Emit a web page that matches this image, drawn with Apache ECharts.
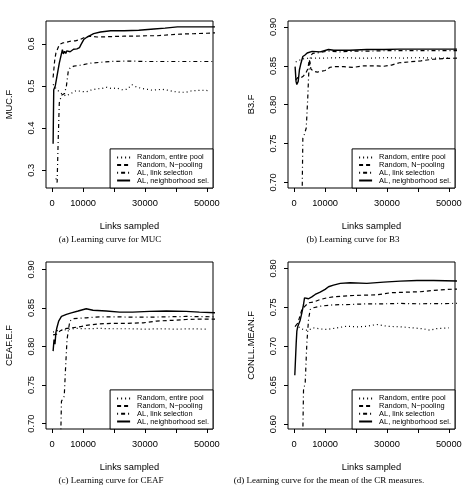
<!DOCTYPE html>
<html>
<head>
<meta charset="utf-8">
<script src="https://cdn.jsdelivr.net/npm/echarts@6/dist/echarts.min.js"></script>
<style>
  html, body { margin: 0; padding: 0; background: #fff; }
  #chart { width: 469px; height: 486px; }
</style>
</head>
<body>
<div id="chart"></div>
<script>
  var seriesNames = ['Random, entire pool', 'Random, N\u2212pooling', 'AL, link selection', 'AL, neighborhood sel.'];
  var xTickValues = [0, 10000, 20000, 30000, 40000, 50000];
  var xLabelValues = [0, 10000, 30000, 50000];

  // (a) MUC
  var mucEntire = [[300,0.504],[1400,0.492],[2800,0.483],[4500,0.476],[6000,0.482],[7800,0.489],[9500,0.487],[11000,0.486],[12500,0.490],[14300,0.493],[16000,0.494],[17600,0.497],[19200,0.494],[20900,0.495],[22500,0.491],[24200,0.492],[25800,0.503],[27400,0.497],[29000,0.494],[30700,0.492],[32300,0.490],[34000,0.491],[35600,0.492],[37300,0.490],[39000,0.487],[41600,0.485],[43200,0.485],[44900,0.488],[46500,0.489],[48200,0.490],[50500,0.489]];
  var mucNpool = [[300,0.52],[800,0.56],[1200,0.578],[2300,0.598],[3400,0.602],[4400,0.603],[5800,0.606],[7500,0.607],[9000,0.610],[10700,0.616],[12300,0.618],[14500,0.616],[18900,0.617],[23300,0.618],[27000,0.618],[30500,0.619],[34000,0.619],[37500,0.621],[41600,0.623],[46000,0.624],[50000,0.625],[53000,0.626]];
  var mucLink = [[1200,0.281],[1600,0.271],[1900,0.36],[2300,0.46],[3000,0.478],[4000,0.482],[4600,0.50],[5200,0.535],[5800,0.543],[7000,0.547],[9000,0.549],[12300,0.554],[15600,0.556],[18900,0.558],[25000,0.559],[30000,0.558],[40000,0.558],[53000,0.558]];
  var mucNeighbor = [[300,0.363],[500,0.491],[1000,0.50],[2300,0.554],[3300,0.586],[3600,0.576],[4000,0.582],[4400,0.577],[4700,0.583],[5800,0.581],[6900,0.587],[7500,0.589],[8000,0.588],[8850,0.591],[9300,0.598],[10200,0.610],[11300,0.616],[13400,0.624],[15600,0.628],[18900,0.631],[23300,0.631],[28000,0.632],[32900,0.635],[36500,0.637],[40500,0.640],[46000,0.640],[53000,0.640]];

  // (b) B3
  var b3Entire = [[500,0.855],[1500,0.857],[3000,0.859],[5000,0.860],[10000,0.860],[15000,0.8605],[20000,0.860],[25000,0.860],[30000,0.8605],[35000,0.860],[40000,0.8605],[45000,0.860],[50500,0.860]];
  var b3Npool = [[500,0.832],[1200,0.835],[2000,0.834],[3000,0.837],[3800,0.841],[4400,0.846],[4900,0.858],[5400,0.846],[6200,0.843],[7500,0.842],[8800,0.843],[10000,0.844],[11500,0.848],[13000,0.849],[16000,0.849],[19000,0.848],[22500,0.850],[26000,0.850],[29000,0.8495],[31500,0.851],[34000,0.854],[37000,0.855],[41000,0.8565],[45000,0.8585],[49000,0.8595],[53000,0.860]];
  var b3Link = [[1200,0.62],[2500,0.66],[2800,0.757],[3300,0.762],[3900,0.77],[4400,0.81],[4700,0.84],[5300,0.863],[6000,0.866],[8000,0.867],[11000,0.869],[15000,0.868],[20000,0.869],[25000,0.869],[30000,0.8695],[40000,0.8695],[53000,0.8695]];
  var b3Neighbor = [[300,0.849],[600,0.830],[850,0.826],[1300,0.830],[1700,0.845],[2100,0.852],[2800,0.862],[3500,0.864],[4200,0.8665],[5800,0.8686],[8400,0.868],[11100,0.871],[12800,0.870],[18000,0.870],[23500,0.871],[29000,0.871],[34000,0.8715],[45000,0.8715],[53000,0.8715]];

  // (c) CEAF
  var ceafEntire = [[300,0.8186],[1500,0.8205],[3000,0.821],[5000,0.822],[7800,0.8235],[11000,0.823],[15000,0.8235],[20000,0.823],[25000,0.823],[30000,0.8225],[35000,0.823],[40000,0.8225],[45000,0.823],[50000,0.8225]];
  var ceafNpool = [[300,0.815],[1500,0.816],[2500,0.820],[4000,0.823],[6000,0.824],[7800,0.825],[9500,0.826],[11000,0.8275],[15400,0.8294],[19700,0.830],[24000,0.830],[29400,0.8307],[33700,0.833],[39000,0.834],[43300,0.835],[47600,0.8355],[53000,0.8355]];
  var ceafLink = [[1200,0.65],[2800,0.69],[3000,0.729],[3900,0.7355],[4300,0.770],[4800,0.809],[5200,0.820],[5700,0.833],[6800,0.836],[11000,0.8372],[15400,0.8385],[20800,0.8385],[26100,0.838],[31500,0.838],[36900,0.8385],[43300,0.839],[53000,0.8385]];
  var ceafNeighbor = [[300,0.794],[600,0.809],[900,0.803],[1200,0.818],[1500,0.824],[2100,0.833],[3000,0.839],[4600,0.8416],[6200,0.8437],[8400,0.846],[11000,0.849],[13200,0.847],[17500,0.846],[21800,0.8446],[26000,0.8446],[31500,0.8455],[36900,0.846],[43300,0.8455],[47600,0.8446],[53000,0.8437]];

  // (d) CoNLL mean
  var conllEntire = [[200,0.7257],[1400,0.725],[2500,0.7223],[3600,0.7206],[4600,0.7206],[6200,0.7236],[8400,0.7223],[10600,0.7215],[13800,0.7236],[17000,0.7257],[20300,0.7249],[23500,0.7257],[26700,0.7279],[30000,0.7257],[34300,0.7249],[38600,0.7236],[41800,0.7223],[44000,0.7206],[46100,0.7227],[50000,0.7236]];
  var conllNpool = [[400,0.7257],[1200,0.730],[2500,0.7472],[3500,0.7515],[4600,0.7558],[6200,0.7567],[8400,0.760],[10600,0.7622],[12700,0.7635],[16000,0.7644],[19200,0.7652],[23500,0.7657],[26700,0.766],[31100,0.7687],[36400,0.7695],[40800,0.770],[45100,0.7717],[49400,0.773],[53000,0.7734]];
  var conllLink = [[1200,0.55],[2800,0.59],[3020,0.644],[3560,0.6528],[4100,0.7043],[4640,0.7343],[5175,0.7472],[6250,0.7494],[8400,0.7515],[12700,0.7532],[18100,0.7536],[23500,0.7545],[28900,0.7545],[34300,0.755],[40000,0.7545],[53000,0.755]];
  var conllNeighbor = [[200,0.6627],[650,0.704],[860,0.7193],[1190,0.7257],[1500,0.728],[1940,0.7335],[2480,0.7429],[3020,0.7536],[3340,0.7622],[3770,0.760],[4640,0.761],[5700,0.7635],[6790,0.7665],[8400,0.7695],[10000,0.773],[11100,0.7764],[12700,0.7785],[14900,0.7807],[18100,0.7815],[23500,0.7807],[28900,0.7824],[34300,0.7837],[39700,0.7845],[45100,0.7845],[53000,0.7837]];

  var panels = [
    { grid: {left: 46, top: 21, width: 167, height: 167}, yMin: 0.258, yMax: 0.654, yTicks: [0.3, 0.4, 0.5, 0.6], dec: 1,
      yName: 'MUC.F', data: [mucEntire, mucNpool, mucLink, mucNeighbor], caption: '(a) Learning curve for MUC', capX: 110, capY: 235 },
    { grid: {left: 288, top: 21, width: 167, height: 167}, yMin: 0.6928, yMax: 0.9077, yTicks: [0.70, 0.75, 0.80, 0.85, 0.90], dec: 2,
      yName: 'B3.F', data: [b3Entire, b3Npool, b3Link, b3Neighbor], caption: '(b) Learning curve for B3', capX: 353, capY: 235 },
    { grid: {left: 46, top: 262, width: 167, height: 167}, yMin: 0.693, yMax: 0.9096, yTicks: [0.70, 0.75, 0.80, 0.85, 0.90], dec: 2,
      yName: 'CEAF.E.F', data: [ceafEntire, ceafNpool, ceafLink, ceafNeighbor], caption: '(c) Learning curve for CEAF', capX: 111, capY: 476 },
    { grid: {left: 288, top: 262, width: 167, height: 167}, yMin: 0.5937, yMax: 0.8082, yTicks: [0.60, 0.65, 0.70, 0.75, 0.80], dec: 2,
      yName: 'CONLL.MEAN.F', data: [conllEntire, conllNpool, conllLink, conllNeighbor], caption: '(d) Learning curve for the mean of the CR measures.', capX: 329, capY: 476 }
  ];

  var lineTypes = [[1, 3], [4, 3], [1, 3, 4, 3], 'solid'];
  var lineWidths = [1.2, 1.2, 1.2, 1.4];
  var font = 'Liberation Sans';

  var chart = echarts.init(document.getElementById('chart'));

  var grids = [], xAxes = [], yAxes = [], series = [], legends = [], titles = [];
  panels.forEach(function (p, i) {
    grids.push({left: p.grid.left, top: p.grid.top, width: p.grid.width, height: p.grid.height,
      show: true, borderColor: '#000', borderWidth: 1, backgroundColor: 'transparent'});
    xAxes.push({
      type: 'value', gridIndex: i, min: -2000, max: 52000,
      axisLine: {show: false, onZero: false},
      splitLine: {show: false},
      axisTick: {show: true, inside: false, length: 4, lineStyle: {color: '#000'}, customValues: xTickValues},
      axisLabel: {customValues: xLabelValues, margin: 11, fontSize: 9.3, fontFamily: font, color: '#000',
        formatter: function (v) { return String(v); }},
      name: 'Links sampled', nameLocation: 'middle', nameGap: 34,
      nameTextStyle: {fontSize: 9.3, fontFamily: font, color: '#000'}
    });
    yAxes.push({
      type: 'value', gridIndex: i, min: p.yMin, max: p.yMax,
      axisLine: {show: false, onZero: false},
      splitLine: {show: false},
      axisTick: {show: true, inside: false, length: 4, lineStyle: {color: '#000'}, customValues: p.yTicks},
      axisLabel: {customValues: p.yTicks, rotate: 90, margin: 10, fontSize: 9.3, fontFamily: font, color: '#000',
        formatter: (function (d) { return function (v) { return v.toFixed(d); }; })(p.dec)},
      name: p.yName, nameLocation: 'middle', nameGap: 32,
      nameTextStyle: {fontSize: 9.3, fontFamily: font, color: '#000'}
    });
    p.data.forEach(function (d, k) {
      series.push({
        name: seriesNames[k], type: 'line', xAxisIndex: i, yAxisIndex: i, data: d,
        symbol: 'none', showSymbol: false, clip: true, animation: false,
        lineStyle: {color: '#000', width: lineWidths[k], type: lineTypes[k], cap: 'butt'},
        itemStyle: {color: '#000'},
        emphasis: {disabled: true}
      });
    });
    legends.push({
      data: seriesNames, orient: 'vertical',
      right: 469 - (p.grid.left + p.grid.width), bottom: 486 - (p.grid.top + p.grid.height),
      itemWidth: 13, itemHeight: 8, itemGap: 0.7, padding: [5, 4, 4, 6],
      borderColor: '#000', borderWidth: 1, borderRadius: 0, backgroundColor: '#fff',
      selectedMode: false,
      itemStyle: {color: 'rgba(0,0,0,0)', borderWidth: 0, opacity: 0},
      lineStyle: {color: '#000', opacity: 1},
      textStyle: {fontSize: 7.4, fontFamily: font, color: '#000', padding: [0, 0, 0, 2]}
    });
    titles.push({
      text: p.caption, left: p.capX, top: p.capY, textAlign: 'center', padding: 0,
      textStyle: {fontFamily: 'Liberation Serif', fontSize: 9, fontWeight: 'normal', color: '#000'}
    });
  });

  chart.setOption({
    animation: false,
    backgroundColor: '#fff',
    title: titles,
    grid: grids,
    xAxis: xAxes,
    yAxis: yAxes,
    legend: legends,
    series: series
  });
</script>
</body>
</html>
